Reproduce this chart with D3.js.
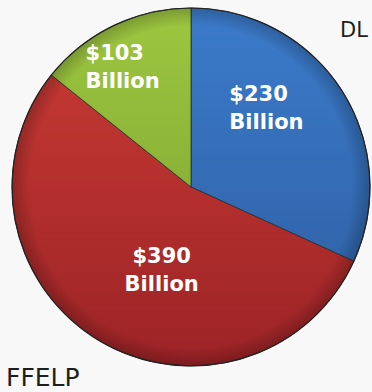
<!DOCTYPE html>
<html>
<head>
<meta charset="utf-8">
<script src="https://cdn.jsdelivr.net/npm/d3@7"></script>
<style>
  html, body { margin: 0; padding: 0; background: #f8f8f8; }
  svg { display: block; }
</style>
</head>
<body>
<svg id="chart" width="372" height="392"></svg>
<script>
// Loan volume by program, in billions of dollars
const categories = ["DL", "FFELP", ""];
const values = [230, 390, 103];
const valueLabels = ["$230", "$390", "$103"];
const unitLabel = "Billion";

// Fill ramps (top colour, bottom colour) for each slice
const topColors = ["#3b7bcb", "#cb3c35", "#9dc640"];
const bottomColors = ["#2d5c9e", "#9c2326", "#779e2f"];

const cx = 191, cy = 187, R = 179;

const svg = d3.select("#chart");
const defs = svg.append("defs");

categories.forEach((c, i) => {
  const grad = defs.append("linearGradient")
    .attr("id", "grad" + i)
    .attr("gradientUnits", "userSpaceOnUse")
    .attr("x1", 0).attr("y1", -R)
    .attr("x2", 0).attr("y2", R);
  grad.append("stop").attr("offset", "0%").attr("stop-color", topColors[i]);
  grad.append("stop").attr("offset", "100%").attr("stop-color", bottomColors[i]);
});

// soft darkening toward the rim
const rim = defs.append("radialGradient").attr("id", "rim")
  .attr("gradientUnits", "userSpaceOnUse")
  .attr("cx", 0).attr("cy", 0).attr("r", R);
rim.append("stop").attr("offset", "0.9").attr("stop-color", "#000").attr("stop-opacity", 0);
rim.append("stop").attr("offset", "1").attr("stop-color", "#000").attr("stop-opacity", 0.22);

const pie = d3.pie().sort(null).value(d => d);
const arcs = pie(values);
const arc = d3.arc().innerRadius(0).outerRadius(R);
const labelArc = d3.arc().innerRadius(R * 0.6).outerRadius(R * 0.6);

const g = svg.append("g").attr("transform", `translate(${cx},${cy})`);

g.selectAll("path.slice")
  .data(arcs)
  .join("path")
  .attr("class", "slice")
  .attr("d", arc)
  .attr("fill", (d, i) => `url(#grad${i})`)
  .attr("stroke", "#1f2a2a")
  .attr("stroke-opacity", 0.75)
  .attr("stroke-width", 1);

g.append("circle")
  .attr("r", R)
  .attr("fill", "url(#rim)")
  .attr("stroke", "#222")
  .attr("stroke-width", 1.2);

// in-slice value labels, anchored from each slice's centroid
const labelLayout = [
  { dx: -52, dy: -28, anchor: "start" },
  { dx: 27, dy: -15, anchor: "middle" },
  { dx: -59, dy: -30, anchor: "start" }
];

const labels = g.append("g")
  .selectAll("text")
  .data(arcs)
  .join("text")
  .attr("font-family", "DejaVu Sans, Verdana, sans-serif")
  .attr("font-weight", "bold")
  .attr("font-size", 21)
  .attr("fill", "#ffffff")
  .attr("text-anchor", (d, i) => labelLayout[i].anchor)
  .attr("transform", (d, i) => {
    const [x, y] = labelArc.centroid(d);
    return `translate(${x + labelLayout[i].dx},${y + labelLayout[i].dy})`;
  });

labels.append("tspan").attr("x", 0).attr("y", 0).text((d, i) => valueLabels[i]);
labels.append("tspan").attr("x", 0).attr("y", 28).text(unitLabel);

// program names outside the pie
const nameLayout = [
  { x: 340, y: 37, size: 21 },
  { x: 6, y: 386, size: 25 }
];
svg.append("g").selectAll("text")
  .data(categories.filter(c => c !== ""))
  .join("text")
  .attr("x", (d, i) => nameLayout[i].x)
  .attr("y", (d, i) => nameLayout[i].y)
  .attr("font-family", "DejaVu Sans, Verdana, sans-serif")
  .attr("font-size", (d, i) => nameLayout[i].size)
  .attr("fill", "#1e1e1e")
  .text(d => d);
</script>
</body>
</html>
